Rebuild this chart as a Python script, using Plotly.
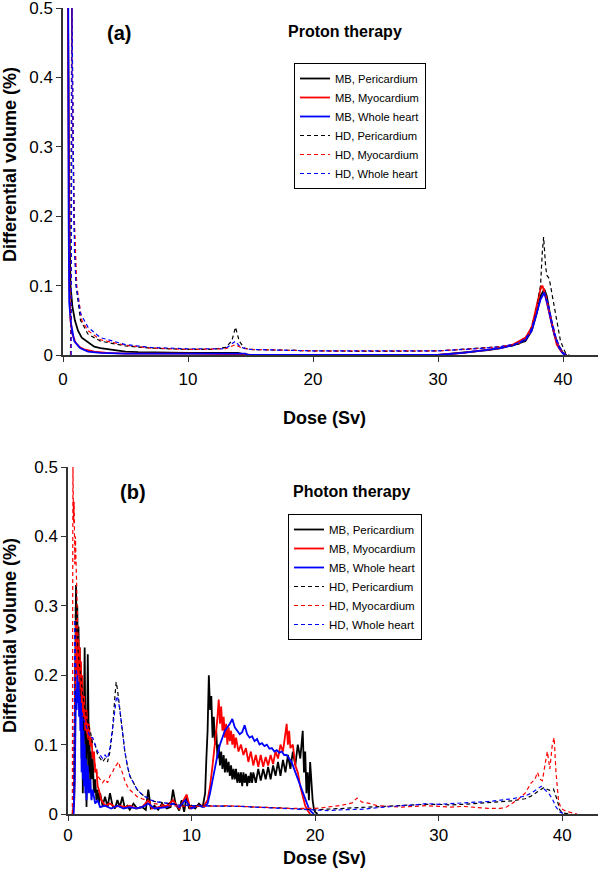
import plotly.graph_objects as go

# ---------------- Data ----------------
names = ["MB, Pericardium", "MB, Myocardium", "MB, Whole heart",
         "HD, Pericardium", "HD, Myocardium", "HD, Whole heart"]
x_ticks = [0, 10, 20, 30, 40]
y_ticks = [0, 0.1, 0.2, 0.3, 0.4, 0.5]
y_tick_labels = ["0", "0.1", "0.2", "0.3", "0.4", "0.5"]

# Panel (a) Proton therapy : (dose, differential volume)
a_mb_peri = [(0.4, 0.5), (0.45, 0.3), (0.5, 0.2), (0.6, 0.1), (0.75, 0.07), (0.95, 0.05), (1.2, 0.035),
             (1.5, 0.025), (2.0, 0.018), (2.5, 0.012), (3.0, 0.01), (4.0, 0.007), (5.0, 0.005), (6.0, 0.004),
             (8.0, 0.003), (10, 0.003), (12, 0.003), (14, 0.003), (14.5, 0.001), (15, 0), (30, 0), (32, 0.003),
             (34, 0.007), (35, 0.01), (36, 0.014), (37, 0.02), (37.5, 0.035), (37.9, 0.06), (38.2, 0.085),
             (38.5, 0.095), (38.7, 0.085), (39.0, 0.055), (39.3, 0.03), (39.6, 0.015), (40.0, 0.003), (40.3, 0)]
a_mb_myo = [(0.4, 0.5), (0.43, 0.35), (0.46, 0.2), (0.5, 0.1), (0.6, 0.05), (0.75, 0.03), (1.0, 0.018),
            (1.3, 0.012), (1.7, 0.008), (2.5, 0.005), (3.5, 0.003), (5, 0.002), (10, 0.002), (14, 0.002),
            (14.5, 0.001), (15, 0), (30, 0), (32, 0.003), (34, 0.007), (35, 0.01), (36, 0.015), (37, 0.025),
            (37.5, 0.04), (37.9, 0.07), (38.2, 0.095), (38.35, 0.1), (38.6, 0.085), (38.9, 0.06), (39.2, 0.035),
            (39.5, 0.015), (39.9, 0.004), (40.2, 0)]
a_mb_whole = [(0.38, 0.5), (0.42, 0.5), (0.45, 0.2), (0.5, 0.075), (0.64, 0.045), (0.9, 0.02), (1.36, 0.01),
              (2, 0.005), (3, 0.003), (5, 0.002), (10, 0.002), (14.6, 0.002), (14.8, 0), (30, 0), (32, 0.003),
              (34, 0.007), (35, 0.01), (36, 0.014), (37, 0.022), (37.5, 0.035), (37.9, 0.06), (38.2, 0.08),
              (38.5, 0.09), (38.8, 0.07), (39.1, 0.045), (39.4, 0.025), (39.7, 0.01), (40.0, 0.002), (40.2, 0)]
a_hd_peri = [(0.6, 0), (0.7, 0.5), (0.8, 0.3), (0.87, 0.2), (1.05, 0.1), (1.4, 0.05), (2.0, 0.03), (3, 0.02),
             (5, 0.013), (7, 0.01), (10, 0.008), (12, 0.008), (13, 0.011), (13.5, 0.02), (13.8, 0.04),
             (14.1, 0.02), (14.5, 0.01), (15, 0.008), (20, 0.006), (25, 0.005), (30, 0.006), (33, 0.009),
             (35, 0.012), (36.5, 0.016), (37.3, 0.03), (37.8, 0.06), (38.2, 0.1), (38.35, 0.15), (38.45, 0.17),
             (38.6, 0.13), (38.7, 0.115), (38.9, 0.11), (39.2, 0.08), (39.5, 0.05), (39.8, 0.02), (40.2, 0.003),
             (40.5, 0)]
a_hd_myo = [(0.62, 0), (0.72, 0.5), (0.8, 0.33), (0.9, 0.2), (1.1, 0.1), (1.5, 0.05), (2, 0.035), (3, 0.022),
            (5, 0.014), (7, 0.01), (10, 0.008), (13, 0.009), (13.8, 0.015), (14.3, 0.01), (15, 0.008),
            (20, 0.006), (25, 0.006), (30, 0.006), (33, 0.009), (35, 0.012), (36.5, 0.017), (37.3, 0.03),
            (37.8, 0.06), (38.1, 0.09), (38.25, 0.1), (38.5, 0.095), (38.8, 0.07), (39.1, 0.045), (39.4, 0.025),
            (39.7, 0.01), (40.1, 0.002), (40.3, 0)]
a_hd_whole = [(0.65, 0), (0.68, 0.5), (0.72, 0.5), (0.82, 0.3), (0.92, 0.15), (1.05, 0.1), (1.4, 0.06),
              (2, 0.04), (3, 0.025), (5, 0.015), (7, 0.011), (10, 0.009), (13, 0.009), (13.8, 0.02),
              (14.2, 0.011), (15, 0.008), (20, 0.006), (25, 0.006), (30, 0.006), (33, 0.009), (35, 0.012),
              (36.5, 0.017), (37.3, 0.03), (37.8, 0.055), (38.2, 0.08), (38.5, 0.09), (38.8, 0.075),
              (39.1, 0.05), (39.4, 0.028), (39.7, 0.012), (40.1, 0.002), (40.3, 0)]

# Panel (b) Photon therapy
b_mb_peri = [(0.3, 0), (0.4, 0), (0.5, 0.02), (0.55, 0.15), (0.6, 0.28), (0.65, 0.33), (0.7, 0.24), (0.75, 0.3),
             (0.8, 0.22), (0.85, 0.27), (0.9, 0.2), (0.95, 0.24), (1.0, 0.15), (1.05, 0.2), (1.1, 0.08),
             (1.15, 0.16), (1.2, 0.03), (1.25, 0.1), (1.3, 0.18), (1.35, 0.24), (1.4, 0.12), (1.45, 0.03),
             (1.5, 0.01), (1.55, 0.12), (1.6, 0.23), (1.65, 0.15), (1.7, 0.06), (1.75, 0.1), (1.8, 0.04),
             (1.85, 0.09), (1.9, 0.05), (2.0, 0.08), (2.1, 0.03), (2.2, 0.05), (2.3, 0.02), (2.4, 0.035),
             (2.5, 0.015), (2.6, 0.03), (2.8, 0.012), (3.0, 0.025), (3.2, 0.01), (3.4, 0.03), (3.6, 0.012),
             (3.8, 0.008), (4.0, 0.02), (4.2, 0.01), (4.4, 0.025), (4.6, 0.008), (4.8, 0.012), (5.0, 0.006),
             (5.3, 0.015), (5.6, 0.008), (6.0, 0.01), (6.3, 0.006), (6.5, 0.035), (6.7, 0.008), (7.0, 0.012),
             (7.3, 0.006), (7.6, 0.015), (8.0, 0.008), (8.3, 0.01), (8.5, 0.035), (8.7, 0.015), (9.0, 0.005),
             (9.2, 0.02), (9.4, 0.003), (9.6, 0.025), (9.8, 0.008), (10.0, 0.012), (10.3, 0.008), (10.6, 0.015),
             (10.9, 0.01), (11.1, 0.03), (11.2, 0.08), (11.3, 0.12), (11.4, 0.2), (11.5, 0.15), (11.6, 0.17),
             (11.7, 0.11), (11.8, 0.14), (11.9, 0.1), (12.0, 0.12), (12.1, 0.08), (12.2, 0.1), (12.3, 0.07),
             (12.4, 0.09), (12.5, 0.065), (12.6, 0.085), (12.7, 0.06), (12.8, 0.08), (12.9, 0.06), (13.0, 0.075),
             (13.1, 0.055), (13.2, 0.07), (13.3, 0.05), (13.4, 0.065), (13.5, 0.05), (13.6, 0.065), (13.7, 0.045),
             (13.8, 0.06), (13.9, 0.045), (14.0, 0.06), (14.1, 0.04), (14.2, 0.06), (14.3, 0.045), (14.4, 0.058),
             (14.5, 0.04), (14.6, 0.055), (14.7, 0.045), (14.8, 0.06), (14.9, 0.045), (15.0, 0.06), (15.2, 0.045),
             (15.4, 0.065), (15.6, 0.048), (15.8, 0.065), (16.0, 0.05), (16.2, 0.068), (16.4, 0.05), (16.6, 0.07),
             (16.8, 0.055), (17.0, 0.075), (17.2, 0.055), (17.4, 0.078), (17.6, 0.06), (17.8, 0.085),
             (18.0, 0.065), (18.2, 0.09), (18.4, 0.07), (18.6, 0.1), (18.8, 0.08), (19.0, 0.12), (19.1, 0.06),
             (19.2, 0.09), (19.3, 0.03), (19.4, 0.06), (19.5, 0.02), (19.6, 0.075), (19.7, 0.04), (19.8, 0.02),
             (19.9, 0.008), (20.0, 0.003), (20.2, 0)]
b_mb_myo = [(0.4, 0), (0.5, 0.02), (0.55, 0.12), (0.6, 0.22), (0.65, 0.28), (0.7, 0.2), (0.75, 0.26), (0.8, 0.19),
            (0.85, 0.25), (0.9, 0.2), (0.95, 0.24), (1.0, 0.18), (1.05, 0.22), (1.1, 0.16), (1.15, 0.2),
            (1.2, 0.14), (1.3, 0.17), (1.4, 0.12), (1.5, 0.15), (1.6, 0.11), (1.7, 0.13), (1.8, 0.1), (1.9, 0.11),
            (2.0, 0.08), (2.1, 0.09), (2.2, 0.06), (2.3, 0.065), (2.4, 0.04), (2.5, 0.035), (2.7, 0.02),
            (3.0, 0.012), (3.4, 0.015), (3.8, 0.01), (4.2, 0.012), (4.6, 0.01), (5.0, 0.012), (5.5, 0.008),
            (6.0, 0.01), (6.5, 0.02), (6.8, 0.008), (7.5, 0.01), (8.0, 0.012), (8.5, 0.02), (9.0, 0.008),
            (9.6, 0.028), (9.9, 0.008), (10.5, 0.012), (11.0, 0.012), (11.3, 0.02), (11.5, 0.04), (11.7, 0.07),
            (11.9, 0.1), (12.0, 0.12), (12.1, 0.14), (12.2, 0.165), (12.3, 0.13), (12.4, 0.155), (12.5, 0.12),
            (12.6, 0.14), (12.7, 0.11), (12.8, 0.13), (12.9, 0.1), (13.0, 0.125), (13.1, 0.105), (13.2, 0.12),
            (13.3, 0.1), (13.4, 0.115), (13.5, 0.095), (13.6, 0.11), (13.8, 0.09), (14.0, 0.1), (14.2, 0.085),
            (14.4, 0.095), (14.6, 0.075), (14.8, 0.09), (15.0, 0.07), (15.2, 0.085), (15.4, 0.068), (15.6, 0.085),
            (15.8, 0.068), (16.0, 0.082), (16.2, 0.07), (16.4, 0.085), (16.6, 0.072), (16.8, 0.09), (17.0, 0.08),
            (17.2, 0.1), (17.4, 0.09), (17.6, 0.115), (17.7, 0.13), (17.8, 0.1), (17.9, 0.12), (18.0, 0.095),
            (18.2, 0.1), (18.4, 0.07), (18.6, 0.06), (18.8, 0.04), (19.0, 0.025), (19.2, 0.012), (19.4, 0.005),
            (19.6, 0)]
b_mb_whole = [(0.45, 0), (0.55, 0.05), (0.6, 0.12), (0.65, 0.18), (0.7, 0.15), (0.75, 0.2), (0.8, 0.16),
              (0.85, 0.19), (0.9, 0.14), (0.95, 0.17), (1.0, 0.12), (1.05, 0.16), (1.1, 0.06), (1.15, 0.14),
              (1.2, 0.05), (1.25, 0.12), (1.3, 0.04), (1.35, 0.1), (1.4, 0.03), (1.45, 0.08), (1.5, 0.02),
              (1.6, 0.07), (1.7, 0.03), (1.8, 0.05), (1.9, 0.02), (2.0, 0.035), (2.2, 0.015), (2.4, 0.02),
              (2.6, 0.01), (3.0, 0.012), (3.5, 0.008), (4.0, 0.012), (4.5, 0.008), (5.0, 0.01), (5.5, 0.008),
              (6.0, 0.01), (6.5, 0.015), (7.0, 0.008), (8.0, 0.01), (8.5, 0.015), (9.0, 0.01), (9.5, 0.02),
              (10.0, 0.008), (10.5, 0.012), (11.0, 0.01), (11.3, 0.015), (11.5, 0.03), (11.7, 0.05), (11.9, 0.07),
              (12.1, 0.085), (12.3, 0.1), (12.5, 0.11), (12.7, 0.12), (12.9, 0.125), (13.1, 0.13), (13.3, 0.137),
              (13.5, 0.125), (13.7, 0.12), (13.9, 0.115), (14.1, 0.118), (14.3, 0.128), (14.5, 0.115),
              (14.7, 0.11), (14.9, 0.112), (15.1, 0.105), (15.3, 0.108), (15.5, 0.1), (15.7, 0.102),
              (15.9, 0.098), (16.1, 0.1), (16.3, 0.094), (16.5, 0.095), (16.7, 0.09), (16.9, 0.092),
              (17.1, 0.088), (17.3, 0.09), (17.5, 0.085), (17.7, 0.085), (17.9, 0.08), (18.1, 0.075),
              (18.3, 0.065), (18.5, 0.055), (18.7, 0.045), (18.9, 0.035), (19.1, 0.025), (19.3, 0.015),
              (19.5, 0.008), (19.7, 0.003), (19.9, 0)]
b_hd_peri = [(0.4, 0), (0.5, 0.05), (0.6, 0.3), (0.7, 0.26), (0.8, 0.24), (0.9, 0.22), (1.0, 0.2), (1.2, 0.17),
             (1.4, 0.15), (1.6, 0.13), (1.8, 0.12), (2.0, 0.1), (2.2, 0.1), (2.4, 0.085), (2.6, 0.08),
             (2.8, 0.075), (3.0, 0.08), (3.2, 0.075), (3.4, 0.09), (3.6, 0.12), (3.8, 0.17), (3.9, 0.19),
             (4.0, 0.18), (4.2, 0.15), (4.4, 0.12), (4.6, 0.09), (4.8, 0.07), (5.0, 0.055), (5.3, 0.045),
             (5.6, 0.035), (6.0, 0.028), (6.5, 0.022), (7.0, 0.018), (8, 0.015), (9, 0.013), (10, 0.012),
             (11, 0.012), (12, 0.012), (13, 0.012), (14, 0.011), (15, 0.01), (16, 0.01), (17, 0.009), (18, 0.008),
             (19, 0.007), (20, 0.006), (21, 0.007), (22, 0.008), (23, 0.009), (24, 0.01), (25, 0.011), (26, 0.012),
             (27, 0.012), (28, 0.013), (29, 0.014), (30, 0.014), (31, 0.013), (32, 0.014), (33, 0.015),
             (34, 0.016), (35, 0.017), (36, 0.019), (37, 0.022), (37.5, 0.026), (38, 0.032), (38.5, 0.038),
             (39, 0.034), (39.3, 0.036), (39.6, 0.02), (39.8, 0.006), (40, 0.002), (40.5, 0)]
b_hd_myo = [(0.35, 0), (0.4, 0.5), (0.45, 0.42), (0.5, 0.45), (0.55, 0.36), (0.6, 0.4), (0.7, 0.3), (0.8, 0.26),
            (0.9, 0.23), (1.0, 0.2), (1.2, 0.16), (1.4, 0.13), (1.6, 0.11), (1.8, 0.1), (2.0, 0.09), (2.2, 0.07),
            (2.4, 0.055), (2.6, 0.05), (2.8, 0.045), (3.0, 0.05), (3.2, 0.045), (3.4, 0.055), (3.6, 0.06),
            (3.8, 0.068), (4.0, 0.072), (4.1, 0.075), (4.2, 0.068), (4.4, 0.06), (4.6, 0.048), (4.8, 0.04),
            (5.0, 0.035), (5.3, 0.03), (5.6, 0.025), (6.0, 0.022), (6.5, 0.018), (7, 0.015), (8, 0.012),
            (9, 0.011), (10, 0.011), (11, 0.011), (12, 0.012), (13, 0.012), (14, 0.011), (15, 0.01), (16, 0.01),
            (17, 0.009), (18, 0.008), (19, 0.008), (20, 0.008), (21, 0.01), (22, 0.012), (23, 0.016),
            (23.4, 0.023), (23.8, 0.017), (24.5, 0.015), (25, 0.012), (26, 0.011), (27, 0.01), (28, 0.011),
            (29, 0.012), (30, 0.011), (31, 0.01), (32, 0.011), (33, 0.009), (34, 0.008), (35, 0.008),
            (35.5, 0.01), (36, 0.016), (36.5, 0.022), (37, 0.03), (37.5, 0.045), (37.8, 0.05), (38, 0.06),
            (38.2, 0.05), (38.4, 0.048), (38.6, 0.07), (38.8, 0.09), (39.0, 0.065), (39.2, 0.1), (39.35, 0.11),
            (39.5, 0.06), (39.7, 0.02), (39.9, 0.008), (40.3, 0.004), (40.8, 0.002), (41.2, 0)]
b_hd_whole = [(0.45, 0), (0.5, 0.1), (0.55, 0.28), (0.6, 0.22), (0.7, 0.2), (0.8, 0.19), (0.9, 0.17), (1.0, 0.16),
              (1.2, 0.14), (1.4, 0.13), (1.6, 0.12), (1.8, 0.11), (2.0, 0.11), (2.2, 0.1), (2.4, 0.09),
              (2.6, 0.085), (2.8, 0.08), (3.0, 0.085), (3.2, 0.08), (3.4, 0.095), (3.6, 0.12), (3.8, 0.15),
              (3.9, 0.165), (4.0, 0.17), (4.1, 0.16), (4.2, 0.15), (4.4, 0.12), (4.6, 0.09), (4.8, 0.07),
              (5.0, 0.055), (5.3, 0.045), (5.6, 0.035), (6.0, 0.028), (6.5, 0.022), (7, 0.018), (8, 0.015),
              (9, 0.013), (10, 0.012), (11, 0.012), (12, 0.012), (13, 0.012), (14, 0.011), (15, 0.01), (16, 0.009),
              (17, 0.008), (18, 0.007), (19, 0.006), (20, 0.005), (21, 0.005), (22, 0.006), (23, 0.006),
              (24, 0.007), (25, 0.009), (26, 0.011), (27, 0.012), (28, 0.013), (29, 0.015), (30, 0.014),
              (31, 0.015), (32, 0.015), (33, 0.017), (34, 0.018), (35, 0.02), (36, 0.022), (37, 0.026),
              (37.5, 0.03), (38, 0.036), (38.3, 0.04), (38.6, 0.035), (38.9, 0.03), (39.2, 0.022), (39.5, 0.01),
              (39.8, 0.003), (40.2, 0)]

panel_a = [a_mb_peri, a_mb_myo, a_mb_whole, a_hd_peri, a_hd_myo, a_hd_whole]
panel_b = [b_mb_peri, b_mb_myo, b_mb_whole, b_hd_peri, b_hd_myo, b_hd_whole]

# ---------------- Styling ----------------
W, H = 600, 882
FONT = "Liberation Sans, Arial, Helvetica, sans-serif"
colors = ["#000000", "#ff0000", "#0000ff", "#000000", "#ff0000", "#0000ff"]
dashes = ["solid", "solid", "solid", "4px,3px", "4px,3px", "4px,3px"]
widths = [1.8, 1.8, 1.8, 1.2, 1.2, 1.2]


def px(x):
    return x / W


def py(y):
    return 1 - y / H


fig = go.Figure()
for i, series in enumerate(panel_a):
    xs, ys = zip(*series)
    fig.add_trace(go.Scatter(x=list(xs), y=list(ys), mode="lines", name=names[i],
                             line=dict(color=colors[i], dash=dashes[i], width=widths[i]),
                             xaxis="x", yaxis="y", legend="legend"))
for i, series in enumerate(panel_b):
    xs, ys = zip(*series)
    fig.add_trace(go.Scatter(x=list(xs), y=list(ys), mode="lines", name=names[i],
                             line=dict(color=colors[i], dash=dashes[i], width=widths[i]),
                             xaxis="x2", yaxis="y2", legend="legend2"))

axis_common = dict(showline=True, linecolor="#333333", linewidth=1.5, showgrid=False, zeroline=False,
                   ticks="outside", ticklen=5, tickwidth=1.2, tickcolor="#333333", automargin=False,
                   ticklabeloverflow="allow",
                   tickfont=dict(family=FONT, size=17, color="black"))

fig.update_layout(
    width=W, height=H, autosize=False,
    margin=dict(l=0, r=0, t=0, b=0, pad=0),
    paper_bgcolor="white", plot_bgcolor="white",
    font=dict(family=FONT, color="black"),
    xaxis=dict(domain=[px(63), px(598)], range=[0, 42.8], tickvals=x_ticks, anchor="y",
               ticklabelstandoff=3, **axis_common),
    yaxis=dict(domain=[py(355), py(8)], range=[0, 0.5], tickvals=y_ticks, ticktext=y_tick_labels,
               anchor="x", **axis_common),
    xaxis2=dict(domain=[px(68), px(598)], range=[0, 42.9], tickvals=x_ticks, anchor="y2", **axis_common),
    yaxis2=dict(domain=[py(814), py(467)], range=[0, 0.5], tickvals=y_ticks, ticktext=y_tick_labels,
                anchor="x2", **axis_common),
    legend=dict(x=px(294), y=py(63), xanchor="left", yanchor="top", bgcolor="white",
                bordercolor="black", borderwidth=1, font=dict(family=FONT, size=11.2, color="black"),
                tracegroupgap=0),
    legend2=dict(x=px(288), y=py(514), xanchor="left", yanchor="top", bgcolor="white",
                 bordercolor="black", borderwidth=1, font=dict(family=FONT, size=11.5, color="black"),
                 tracegroupgap=0),
    showlegend=True,
)

annots = [
    ("(a)", 119, 33, 20, 0),
    ("Proton therapy", 345, 32, 16, 0),
    ("(b)", 133, 492, 20, 0),
    ("Photon therapy", 351, 492, 16, 0),
    ("Differential volume (%)", 10, 165, 18, -90),
    ("Differential volume (%)", 10, 636, 18, -90),
    ("Dose (Sv)", 324, 418, 18, 0),
    ("Dose (Sv)", 324, 858, 18, 0),
]
for text, ax_, ay_, size, ang in annots:
    fig.add_annotation(x=px(ax_), y=py(ay_), xref="paper", yref="paper", text="<b>" + text + "</b>",
                       showarrow=False, textangle=ang, xanchor="center", yanchor="middle",
                       font=dict(family=FONT, size=size, color="black"))

# remove the default page margin so the 600x882 figure fills the window exactly
fig.write_html("out.html", config={"displayModeBar": False},
               post_script="document.body.style.margin='0';document.body.style.overflow='hidden';")
